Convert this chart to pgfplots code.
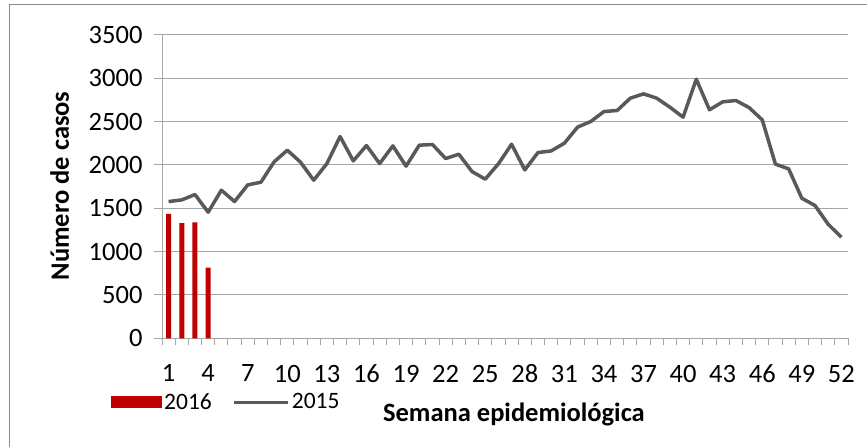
\documentclass[border=0pt]{standalone}
\usepackage{pgfplots}
\pgfplotsset{compat=1.18}
\usepackage{pgfplotstable}
\usepackage{fontspec}
\setmainfont{Carlito}
\definecolor{barred}{HTML}{C00000}
\definecolor{linegray}{HTML}{595959}
\definecolor{gridgray}{HTML}{A6A6A6}
\definecolor{framegray}{HTML}{8C8C8C}
\pgfplotstableread{
week cases
1 1577
2 1596
3 1658
4 1454
5 1708
6 1577
7 1769
8 1800
9 2035
10 2169
11 2031
12 1823
13 2015
14 2327
15 2046
16 2223
17 2015
18 2219
19 1985
20 2227
21 2235
22 2073
23 2123
24 1923
25 1835
26 2012
27 2238
28 1942
29 2142
30 2161
31 2250
32 2435
33 2500
34 2615
35 2627
36 2769
37 2819
38 2769
39 2665
40 2550
41 2988
42 2635
43 2727
44 2742
45 2661
46 2519
47 2008
48 1954
49 1615
50 1531
51 1315
52 1165
}\dataA
\pgfplotstableread{
week cases
1 1435
2 1327
3 1338
4 815
}\dataB
\begin{document}
\begin{tikzpicture}[x=1pt,y=1pt]
\useasboundingbox (0,0) rectangle (867,447);
\draw[framegray, line width=1pt] (9,0) -- (9,442) -- (867,442);
\begin{axis}[
  at={(162pt,108.7pt)}, anchor=south west,
  scale only axis, width=686pt, height=303.5pt,
  xmin=0.5, xmax=52.5, ymin=0, ymax=3500,
  axis x line*=bottom, axis y line*=left,
  axis line style={gridgray, line width=1pt, -},
  xtick={1,4,...,52},
  minor xtick={0.5,1.5,...,52.5},
  major x tick style={draw=none},
  ytick={0,500,...,3500},
  tick align=outside,
  major tick length=8pt, minor tick length=7pt,
  tick style={gridgray, line width=1pt},
  ymajorgrids, grid style={gridgray, line width=1pt},
  /pgf/number format/assume math mode=true,
  /pgf/number format/1000 sep={},
  ticklabel style={font=\fontsize{26.5}{31}\selectfont},
  xticklabel style={yshift=-15pt},
  yticklabel style={xshift=-8pt},
  xlabel={Semana epidemiológica},
  xlabel style={at={(axis description cs:0.513,-0.2725)}, anchor=base, font=\bfseries\fontsize{26.5}{31}\selectfont},
  ylabel={Número de casos},
  ylabel style={at={(axis description cs:-0.1356,0.502)}, anchor=base, font=\bfseries\fontsize{26.5}{31}\selectfont},
  legend columns=2,
  legend cell align=left,
  legend style={at={(axis description cs:-0.0743,-0.21)}, anchor=west, draw=none, fill=none, inner sep=0pt,
    font=\fontsize{23.5}{28}\selectfont,
    /tikz/every even column/.append style={column sep=19pt}},
]
\addplot[ybar, bar width=5pt, bar shift=0pt, fill=barred, draw=none,
  legend image code/.code={\fill[barred] (0pt,-6pt) rectangle (51pt,6pt);}] table[x=week,y=cases] {\dataB};
\addlegendentry{2016}
\addplot[linegray, line width=3.5pt, no markers, line join=round,
  legend image code/.code={\draw[linegray, line width=3pt] (0pt,0pt) -- (54pt,0pt);}] table[x=week,y=cases] {\dataA};
\addlegendentry{2015}
\end{axis}
\end{tikzpicture}
\end{document}
